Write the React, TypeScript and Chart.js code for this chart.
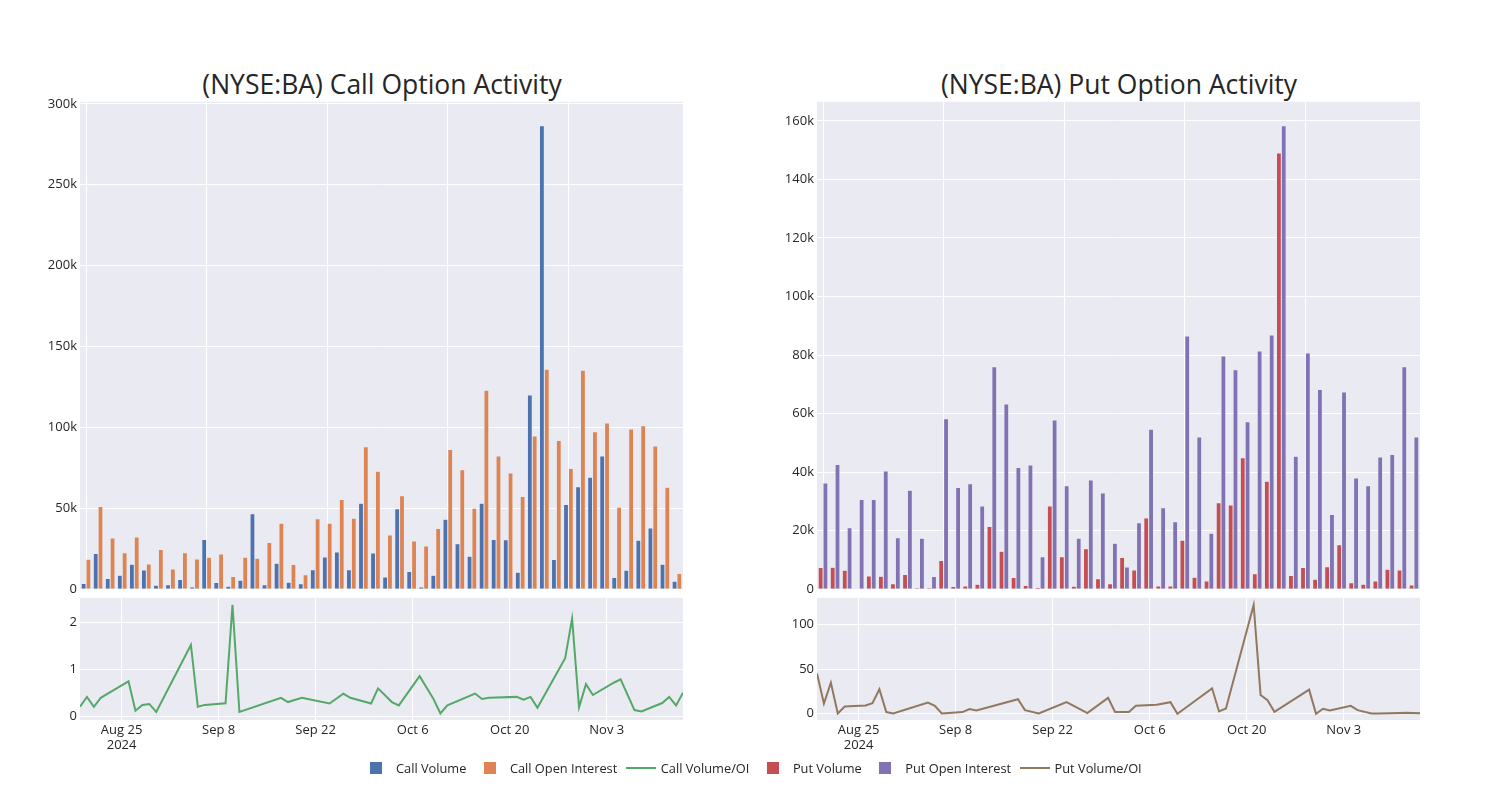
import React, { useEffect, useRef } from "react";
import { Chart, registerables } from "chart.js";

Chart.register(...registerables);

// ---------------- data ----------------
const dates = [
  "2024-08-19", "2024-08-20", "2024-08-21", "2024-08-22", "2024-08-23",
  "2024-08-26", "2024-08-27", "2024-08-28", "2024-08-29", "2024-08-30",
  "2024-09-04", "2024-09-05", "2024-09-06", "2024-09-09", "2024-09-10",
  "2024-09-11", "2024-09-17", "2024-09-18", "2024-09-20", "2024-09-24",
  "2024-09-26", "2024-09-27", "2024-09-30", "2024-10-01", "2024-10-03",
  "2024-10-04", "2024-10-07", "2024-10-09", "2024-10-10", "2024-10-11",
  "2024-10-15", "2024-10-16", "2024-10-17", "2024-10-21", "2024-10-22",
  "2024-10-23", "2024-10-24", "2024-10-28", "2024-10-29", "2024-10-30",
  "2024-10-31", "2024-11-01", "2024-11-04", "2024-11-05", "2024-11-07",
  "2024-11-08", "2024-11-11", "2024-11-12", "2024-11-13", "2024-11-14",
];

const callVolume = [
  3500, 22000, 6600, 8600, 15400, 11900, 2500, 2700, 6000, 1400,
  30800, 4100, 1900, 5500, 46600, 2700, 16000, 4300, 3300, 12100,
  19900, 23000, 12100, 53200, 22400, 7600, 49700, 10900, 1400, 8600,
  43300, 28100, 20300, 53200, 30800, 30600, 10500, 120000, 286500, 18300,
  52400, 63300, 69200, 82400, 7200, 11700, 30200, 37800, 15400, 4900,
];

const callOpenInterest = [
  18500, 51100, 31600, 22600, 32200, 15600, 24600, 12500, 22600, 18700,
  19700, 21800, 7800, 19700, 19100, 28800, 40700, 15200, 9000, 43500,
  40700, 55400, 43900, 88100, 72900, 33500, 57700, 29800, 26700, 37600,
  86300, 73900, 50100, 123000, 82400, 71900, 57300, 94700, 136000, 92000,
  74600, 135400, 97300, 102700, 50700, 99000, 101000, 88500, 63000, 9700,
];

const callVolOI = [
  0.21, 0.42, 0.21, 0.40, 0.49, 0.75, 0.125, 0.25, 0.27, 0.10,
  1.52, 0.21, 0.25, 0.285, 2.37, 0.10, 0.40, 0.31, 0.40, 0.28,
  0.49, 0.40, 0.28, 0.60, 0.31, 0.24, 0.86, 0.375, 0.07, 0.24,
  0.49, 0.375, 0.40, 0.42, 0.36, 0.42, 0.19, 1.24, 2.08, 0.20,
  0.69, 0.46, 0.72, 0.79, 0.14, 0.11, 0.29, 0.42, 0.24, 0.51,
];

const putVolume = [
  7400, 7500, 6500, 200, 4500, 4400, 1900, 5000, 500, 500,
  9800, 900, 1100, 1700, 21400, 13000, 4000, 1300, 600, 28400,
  11100, 1000, 13800, 3600, 1900, 10800, 6600, 24300, 1100, 1100,
  16700, 4100, 2800, 29500, 28800, 44900, 5300, 36900, 149000, 4700,
  7400, 3400, 7700, 15200, 2200, 1700, 2800, 6800, 6600, 1400,
];

const putOpenInterest = [
  36300, 42600, 21000, 30600, 30600, 40400, 17600, 33800, 17400, 4300,
  58200, 34700, 36000, 28400, 76000, 63300, 41600, 42400, 11100, 57800,
  35300, 17400, 37300, 32900, 15700, 7600, 22700, 54600, 27800, 23000,
  86500, 52000, 19100, 79700, 75000, 57200, 81400, 86800, 158300, 45400,
  80700, 68200, 25500, 67400, 38000, 35300, 45200, 46000, 76000, 52000,
];

const putVolOI = [
  45.2, 11.5, 34.8, 0.3, 8.1, 9.3, 11.8, 27.4, 1.9, 0.3,
  12.6, 8.9, 0.4, 1.9, 5.2, 3.7, 16.3, 4.1, 0.4, 13.0,
  4.8, 0.8, 17.8, 1.9, 1.9, 8.9, 10.0, 13.0, 0.0, 5.6,
  28.5, 2.6, 5.9, 121.9, 21.1, 15.2, 2.2, 22.0, 27.0, 0.0,
  5.6, 3.7, 8.9, 4.1, 0.4, 0.4, 0.8, 1.1, 0.8, 0.6,
];

const dateTicks = ["2024-08-25", "2024-09-08", "2024-09-22", "2024-10-06", "2024-10-20", "2024-11-03"];
const dateTickLabels: (string | string[])[] = [["Aug 25", "2024"], "Sep 8", "Sep 22", "Oct 6", "Oct 20", "Nov 3"];

const callBarTicks = [0, 50000, 100000, 150000, 200000, 250000, 300000];
const putBarTicks = [0, 20000, 40000, 60000, 80000, 100000, 120000, 140000, 160000];
const callRatioTicks = [0, 1, 2];
const putRatioTicks = [0, 50, 100];

const titles = ["(NYSE:BA) Call Option Activity", "(NYSE:BA) Put Option Activity"];

const COLORS = {
  callVol: "#4C72B0",
  callOI: "#DD8452",
  callRatio: "#55A868",
  putVol: "#C44E52",
  putOI: "#8172B3",
  putRatio: "#937860",
};

// ---------------- helpers ----------------
const DAY = 86400000;
const toDay = (s: string) => Date.parse(s) / DAY;
const dayNums = dates.map(toDay);
const tickDays = dateTicks.map(toDay);

const FONT = '"Open Sans", "DejaVu Sans", sans-serif';
const TEXT = "#262626";
Chart.defaults.font.family = FONT;
Chart.defaults.font.size = 13;
Chart.defaults.color = TEXT;

const plotBg = {
  id: "plotBg",
  beforeDraw(chart: any) {
    const { ctx, chartArea: a } = chart;
    ctx.save();
    ctx.fillStyle = "#EAEAF2";
    ctx.fillRect(a.left, a.top, a.right - a.left, a.bottom - a.top);
    ctx.restore();
  },
};

const kFmt = (v: any) => (v === 0 ? "0" : Math.round(v / 1000) + "k");

function barConfig(vol: number[], oi: number[], cv: string, co: string, yMax: number, yTicks: number[]) {
  return {
    type: "bar",
    data: {
      labels: dates,
      datasets: [
        { data: vol, backgroundColor: cv, borderColor: "rgba(234,234,242,0.9)", borderWidth: 0.5, categoryPercentage: 0.8, barPercentage: 1 },
        { data: oi, backgroundColor: co, borderColor: "rgba(234,234,242,0.9)", borderWidth: 0.5, categoryPercentage: 0.8, barPercentage: 1 },
      ],
    },
    options: {
      animation: false,
      responsive: false,
      maintainAspectRatio: false,
      layout: { padding: { top: 10, right: 5, bottom: 10, left: 0 } },
      plugins: { legend: { display: false }, tooltip: { enabled: false } },
      scales: {
        x: {
          type: "category",
          offset: true,
          grid: {
            offset: false,
            drawTicks: false,
            lineWidth: 1,
            color: (c: any) => (c.tick && c.tick.value % 10 === 0 ? "#ffffff" : "rgba(0,0,0,0)"),
          },
          border: { display: false },
          ticks: { display: false },
          afterFit: (s: any) => { s.height = 0; },
        },
        y: {
          min: 0,
          max: yMax,
          grid: { color: "#ffffff", lineWidth: 1, drawTicks: false },
          border: { display: false },
          ticks: { padding: 3, callback: kFmt },
          afterBuildTicks: (s: any) => { s.ticks = yTicks.map((v) => ({ value: v })); },
          afterFit: (s: any) => { s.width = 60; },
        },
      },
    },
    plugins: [plotBg],
  };
}

function lineConfig(ratio: number[], color: string, yMin: number, yMax: number, yTicks: number[]) {
  return {
    type: "line",
    data: {
      datasets: [
        {
          data: dayNums.map((x, i) => ({ x, y: ratio[i] })),
          borderColor: color,
          backgroundColor: color,
          borderWidth: 2,
          pointRadius: 0,
          tension: 0,
          fill: false,
        },
      ],
    },
    options: {
      animation: false,
      responsive: false,
      maintainAspectRatio: false,
      layout: { padding: { top: 10, right: 5, bottom: 0, left: 0 } },
      plugins: { legend: { display: false }, tooltip: { enabled: false } },
      scales: {
        x: {
          type: "linear",
          min: dayNums[0],
          max: dayNums[dayNums.length - 1],
          grid: { color: "#ffffff", lineWidth: 1, drawTicks: false },
          border: { display: false },
          ticks: {
            padding: 2,
            maxRotation: 0,
            autoSkip: false,
            callback: (v: any) => {
              const i = tickDays.indexOf(v);
              return i >= 0 ? dateTickLabels[i] : "";
            },
          },
          afterBuildTicks: (s: any) => { s.ticks = tickDays.map((v) => ({ value: v })); },
          afterFit: (s: any) => { s.height = 40; },
        },
        y: {
          min: yMin,
          max: yMax,
          grid: { color: "#ffffff", lineWidth: 1, drawTicks: false },
          border: { display: false },
          ticks: { padding: 3 },
          afterBuildTicks: (s: any) => { s.ticks = yTicks.map((v) => ({ value: v })); },
          afterFit: (s: any) => { s.width = 60; },
        },
      },
    },
    plugins: [plotBg],
  };
}

function ChartCanvas(props: { make: () => any; left: number; top: number; width: number; height: number }) {
  const ref = useRef<HTMLCanvasElement>(null);
  useEffect(() => {
    const chart = new Chart(ref.current as HTMLCanvasElement, props.make());
    return () => chart.destroy();
  }, []);
  return (
    <canvas
      ref={ref}
      width={props.width}
      height={props.height}
      style={{ position: "absolute", left: props.left, top: props.top, width: props.width, height: props.height }}
    />
  );
}

const legendItems = [
  { label: "Call Volume", color: COLORS.callVol, kind: "box" },
  { label: "Call Open Interest", color: COLORS.callOI, kind: "box" },
  { label: "Call Volume/OI", color: COLORS.callRatio, kind: "line" },
  { label: "Put Volume", color: COLORS.putVol, kind: "box" },
  { label: "Put Open Interest", color: COLORS.putOI, kind: "box" },
  { label: "Put Volume/OI", color: COLORS.putRatio, kind: "line" },
];

const titleStyle: React.CSSProperties = {
  position: "absolute",
  width: 500,
  top: 67,
  textAlign: "center",
  fontSize: 26.5,
  color: TEXT,
  lineHeight: "34px",
  whiteSpace: "nowrap",
};

export default function App() {
  return (
    <div style={{ position: "absolute", left: 0, top: 0, width: 1500, height: 800, background: "#fff", overflow: "hidden", fontFamily: FONT }}>
      <div style={{ ...titleStyle, left: 132 }}>{titles[0]}</div>
      <div style={{ ...titleStyle, left: 869 }}>{titles[1]}</div>

      <ChartCanvas make={() => barConfig(callVolume, callOpenInterest, COLORS.callVol, COLORS.callOI, 301300, callBarTicks)} left={20} top={91} width={668} height={509} />
      <ChartCanvas make={() => lineConfig(callVolOI, COLORS.callRatio, -0.07, 2.52, callRatioTicks)} left={20} top={587} width={668} height={173} />
      <ChartCanvas make={() => barConfig(putVolume, putOpenInterest, COLORS.putVol, COLORS.putOI, 166500, putBarTicks)} left={757} top={91} width={668} height={509} />
      <ChartCanvas make={() => lineConfig(putVolOI, COLORS.putRatio, -7, 130, putRatioTicks)} left={757} top={587} width={668} height={173} />

      <div style={{ position: "absolute", left: 356, top: 760, height: 16, display: "flex", alignItems: "center", fontSize: 12.8, color: TEXT, whiteSpace: "nowrap" }}>
        {legendItems.map((it) => (
          <div key={it.label} style={{ display: "flex", alignItems: "center", marginRight: 3.5 }}>
            <div style={{ position: "relative", width: 40, height: 16 }}>
              {it.kind === "box" ? (
                <div style={{ position: "absolute", left: 14, top: 2, width: 12, height: 12, background: it.color }} />
              ) : (
                <div style={{ position: "absolute", left: 5, top: 7, width: 30, height: 2, background: it.color }} />
              )}
            </div>
            <span>{it.label}</span>
          </div>
        ))}
      </div>
    </div>
  );
}
